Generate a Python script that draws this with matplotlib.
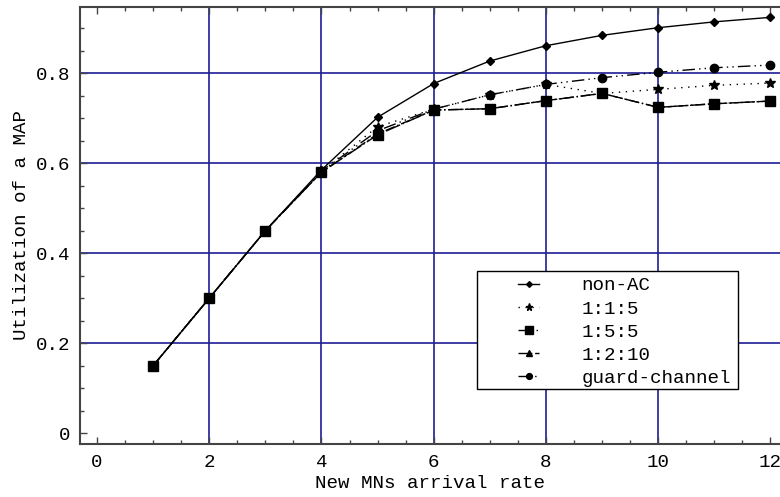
import matplotlib
matplotlib.use("Agg")
import matplotlib.pyplot as plt
from matplotlib.ticker import MultipleLocator
from matplotlib.patches import Rectangle

plt.rcParams['font.family'] = ['Liberation Mono', 'DejaVu Sans Mono']

# Arrival rate of new mobile nodes
arrival_rate = [1, 2, 3, 4, 5, 6, 7, 8, 9, 10, 11, 12]

# MAP utilization for each admission-control scheme
non_ac = [0.15, 0.30, 0.45, 0.585, 0.702, 0.777, 0.827, 0.861, 0.884, 0.901, 0.914, 0.924]
ratio_1_1_5 = [0.15, 0.30, 0.45, 0.582, 0.681, 0.720, 0.752, 0.775, 0.755, 0.764, 0.773, 0.778]
ratio_1_5_5 = [0.15, 0.30, 0.45, 0.580, 0.663, 0.718, 0.721, 0.739, 0.755, 0.724, 0.732, 0.738]
ratio_1_2_10 = [0.15, 0.30, 0.45, 0.580, 0.665, 0.718, 0.721, 0.739, 0.755, 0.724, 0.732, 0.738]
guard_channel = [0.15, 0.30, 0.45, 0.582, 0.672, 0.720, 0.752, 0.775, 0.790, 0.802, 0.812, 0.818]

x_ticks = [0, 2, 4, 6, 8, 10, 12]
y_ticks = [0, 0.2, 0.4, 0.6, 0.8]
y_tick_labels = ["0", "0.2", "0.4", "0.6", "0.8"]

FS = 13.8
W, H = 780, 497
fig = plt.figure(figsize=(7.8, 4.97), dpi=100)
ax = fig.add_axes([80 / W, 53 / H, 700 / W, 437 / H])

ax.set_xlim(-0.303, 12.17)
ax.set_ylim(-0.024, 0.947)

grid_kw = dict(color='#1e1e96', lw=1.2, zorder=1)
for gx in [2, 4, 6, 8, 10]:
    ax.axvline(gx, **grid_kw)
for gy in [0.2, 0.4, 0.6, 0.8]:
    ax.axhline(gy, **grid_kw)

ax.plot(arrival_rate, non_ac, color='black', lw=1.0, ls='-',
        marker='D', ms=4.2, label='non-AC', zorder=3)
ax.plot(arrival_rate, ratio_1_1_5, color='black', lw=1.0, ls=(0, (1, 4)),
        marker='*', ms=7.5, label='1:1:5', zorder=3)
ax.plot(arrival_rate, ratio_1_2_10, color='black', lw=1.0, ls=(0, (7, 2, 1, 2)),
        marker='^', ms=5.5, label='1:2:10', zorder=3)
ax.plot(arrival_rate, guard_channel, color='black', lw=1.0, ls=(0, (9, 3, 1, 3, 1, 3)),
        marker='o', ms=6, label='guard-channel', zorder=4)
ax.plot(arrival_rate, ratio_1_5_5, color='black', lw=1.0, ls=(0, (11, 2, 1, 2)),
        marker='s', ms=7.5, label='1:5:5', zorder=5)

ax.set_xticks(x_ticks)
ax.set_yticks(y_ticks)
ax.set_yticklabels(y_tick_labels)
ax.xaxis.set_minor_locator(MultipleLocator(0.5))
ax.yaxis.set_minor_locator(MultipleLocator(0.05))
ax.tick_params(which='both', direction='in', top=True, right=False,
               colors='#444444', labelcolor='black', labelsize=FS)
ax.tick_params(which='major', length=5, width=1)
ax.tick_params(which='minor', length=3, width=1)
ax.tick_params(axis='x', pad=7)
ax.tick_params(axis='y', pad=7)

for side in ['left', 'top', 'bottom']:
    ax.spines[side].set_color('#444444')
    ax.spines[side].set_linewidth(1.5)
ax.spines['right'].set_visible(False)

ax.set_xlabel('New MNs arrival rate', fontsize=FS, labelpad=3)
ax.set_ylabel('Utilization of a MAP', fontsize=FS, labelpad=4)

# Legend: entries placed inside a separately drawn rectangular frame
handles, labels = ax.get_legend_handles_labels()
order = ['non-AC', '1:1:5', '1:5:5', '1:2:10', 'guard-channel']
hmap = dict(zip(labels, handles))
leg = ax.legend([hmap[k] for k in order], order, loc='upper left',
                bbox_to_anchor=(518 / W, 1 - 277 / H), bbox_transform=fig.transFigure,
                fontsize=FS, frameon=False, borderpad=0, labelspacing=0.3,
                handlelength=1.1, handletextpad=2.2, borderaxespad=0,
                markerscale=0.7)
leg.set_zorder(10)
ax.add_patch(Rectangle((477 / W, 1 - 389 / H), (738 - 477) / W, (389 - 271) / H,
                       transform=fig.transFigure, facecolor='white', edgecolor='black',
                       lw=1.0, zorder=9, clip_on=False))

fig.savefig('out.png', dpi=100)
